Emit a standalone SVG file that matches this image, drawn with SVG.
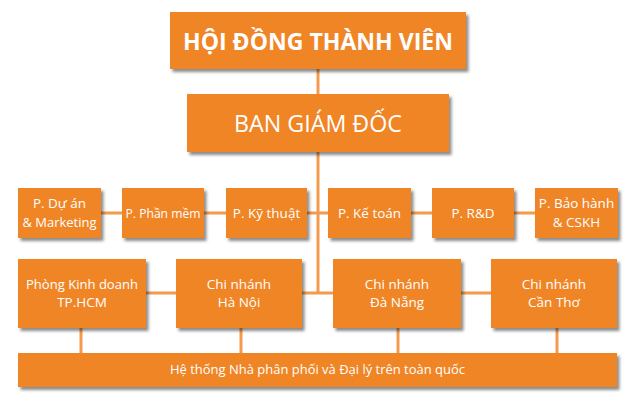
<svg xmlns="http://www.w3.org/2000/svg" width="635" height="409" viewBox="0 0 635 409">
<defs>
<filter id="sh" x="-10%" y="-20%" width="125%" height="150%">
<feDropShadow dx="2.5" dy="3" stdDeviation="1.6" flood-color="#000" flood-opacity="0.45"/>
</filter>
<style>
.box{fill:#F08526;filter:url(#sh)}
.ln{stroke:#F39A4C;stroke-width:3;fill:none}
text{fill:#fff;font-family:"Open Sans","Noto Sans",sans-serif;text-anchor:middle}
.t{font-size:13.5px}
</style>
</defs>
<rect width="635" height="409" fill="#fff"/>
<g id="connectors">
<line class="ln" x1="318" y1="69" x2="318" y2="293"/>
<line class="ln" x1="101" y1="213" x2="535" y2="213"/>
<line class="ln" x1="146" y1="293" x2="491" y2="293"/>
<line class="ln" x1="81" y1="328" x2="81" y2="353"/>
<line class="ln" x1="241" y1="328" x2="241" y2="353"/>
<line class="ln" x1="398" y1="328" x2="398" y2="353"/>
<line class="ln" x1="557" y1="328" x2="557" y2="353"/>
</g>
<g id="hdtv"><rect class="box" x="170" y="12" width="296" height="57"/><text x="318" y="50" font-size="24" font-weight="bold" textLength="270" lengthAdjust="spacingAndGlyphs">HỘI ĐỒNG THÀNH VIÊN</text></g>
<g id="bgd"><rect class="box" x="187" y="94" width="262" height="58"/><text x="318" y="132" font-size="24" textLength="168" lengthAdjust="spacingAndGlyphs">BAN GIÁM ĐỐC</text></g>
<g id="pduan"><rect class="box" x="18" y="188" width="83" height="50"/><text class="t" x="59.5" y="208">P. Dự án</text><text class="t" x="59.5" y="227" textLength="74" lengthAdjust="spacingAndGlyphs">&amp; Marketing</text></g>
<g id="pphanmem"><rect class="box" x="122" y="188" width="82" height="50"/><text class="t" x="163" y="218" textLength="75" lengthAdjust="spacingAndGlyphs">P. Phần mềm</text></g>
<g id="pkythuat"><rect class="box" x="226" y="188" width="81" height="50"/><text class="t" x="266.5" y="218">P. Kỹ thuật</text></g>
<g id="pketoan"><rect class="box" x="328" y="188" width="83" height="50"/><text class="t" x="369.5" y="218">P. Kế toán</text></g>
<g id="prd"><rect class="box" x="432" y="188" width="82" height="50"/><text class="t" x="473" y="218">P. R&amp;D</text></g>
<g id="pbaohanh"><rect class="box" x="535" y="188" width="83" height="50"/><text class="t" x="576.5" y="208">P. Bảo hành</text><text class="t" x="576.5" y="227">&amp; CSKH</text></g>
<g id="pkd"><rect class="box" x="18" y="259" width="128" height="69"/><text class="t" x="82" y="289" textLength="112" lengthAdjust="spacingAndGlyphs">Phòng Kinh doanh</text><text class="t" x="82" y="307">TP.HCM</text></g>
<g id="cnhn"><rect class="box" x="176" y="259" width="126" height="69"/><text class="t" x="239" y="289">Chi nhánh</text><text class="t" x="239" y="307">Hà Nội</text></g>
<g id="cndn"><rect class="box" x="333" y="259" width="128" height="69"/><text class="t" x="397" y="289">Chi nhánh</text><text class="t" x="397" y="307">Đà Nẵng</text></g>
<g id="cnct"><rect class="box" x="491" y="259" width="126" height="69"/><text class="t" x="554" y="289">Chi nhánh</text><text class="t" x="554" y="307">Cần Thơ</text></g>
<g id="htnpp"><rect class="box" x="18" y="353" width="599" height="34"/><text class="t" x="317.5" y="374" textLength="295" lengthAdjust="spacingAndGlyphs">Hệ thống Nhà phân phối và Đại lý trên toàn quốc</text></g>
</svg>
